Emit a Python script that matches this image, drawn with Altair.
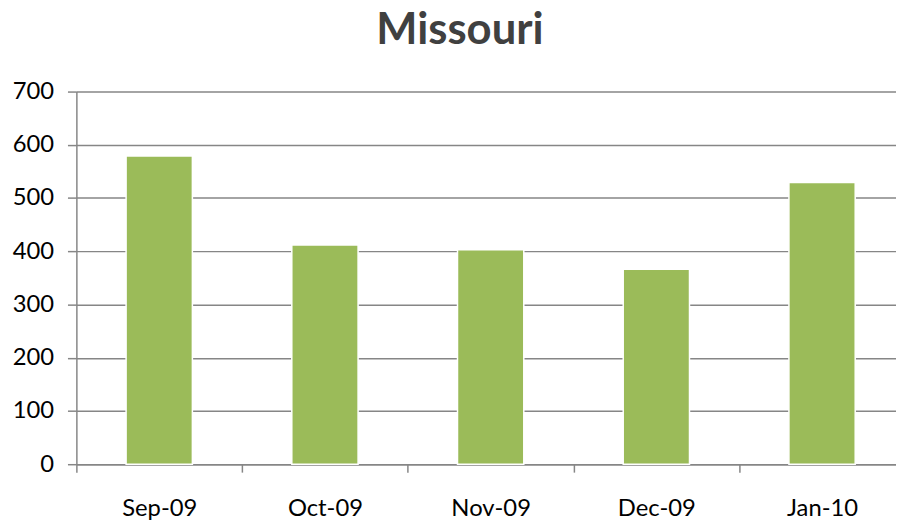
import altair as alt
import pandas as pd

months = ["Sep-09", "Oct-09", "Nov-09", "Dec-09", "Jan-10"]
values = [579, 412, 403, 366, 529]
y_ticks = [0, 100, 200, 300, 400, 500, 600, 700]

df = pd.DataFrame({"month": months, "value": values})

FONT = "Lato"
GRID = "#868686"

chart = alt.Chart(df).mark_bar(
    color="#9BBB59", stroke="#ffffff", strokeWidth=1.5,
    width=alt.RelativeBandSize(0.4),
).encode(
    x=alt.X(
        "month:N", sort=months, title=None,
        scale=alt.Scale(paddingInner=0, paddingOuter=0),
        axis=alt.Axis(
            labelAngle=0, labelFont=FONT, labelFontSize=24, labelColor="#000000",
            labelPadding=25, tickBand="extent", tickSize=8, tickColor=GRID,
            tickWidth=1.5, domainColor=GRID, domainWidth=1.5, grid=False,
        ),
    ),
    y=alt.Y(
        "value:Q", title=None,
        scale=alt.Scale(domain=[0, 700], nice=False),
        axis=alt.Axis(
            values=y_ticks, labelFont=FONT, labelFontSize=24, labelColor="#000000",
            labelPadding=14, tickSize=9, tickColor=GRID, tickWidth=1.5,
            domainColor=GRID, domainWidth=1.5, gridColor=GRID, gridWidth=1.5,
        ),
    ),
).properties(
    width=836,
    height=376,
    autosize="none",
    padding={"left": 69, "top": 82, "right": -9, "bottom": 57},
    title=alt.TitleParams(
        "Missouri", font=FONT, fontSize=44, fontWeight="bold", color="#404040",
        anchor="middle", frame="group", baseline="alphabetic", offset=-8, dx=-31,
    ),
).configure_view(stroke=None)

chart.save("out.html", embed_options={"renderer": "svg", "actions": False})
